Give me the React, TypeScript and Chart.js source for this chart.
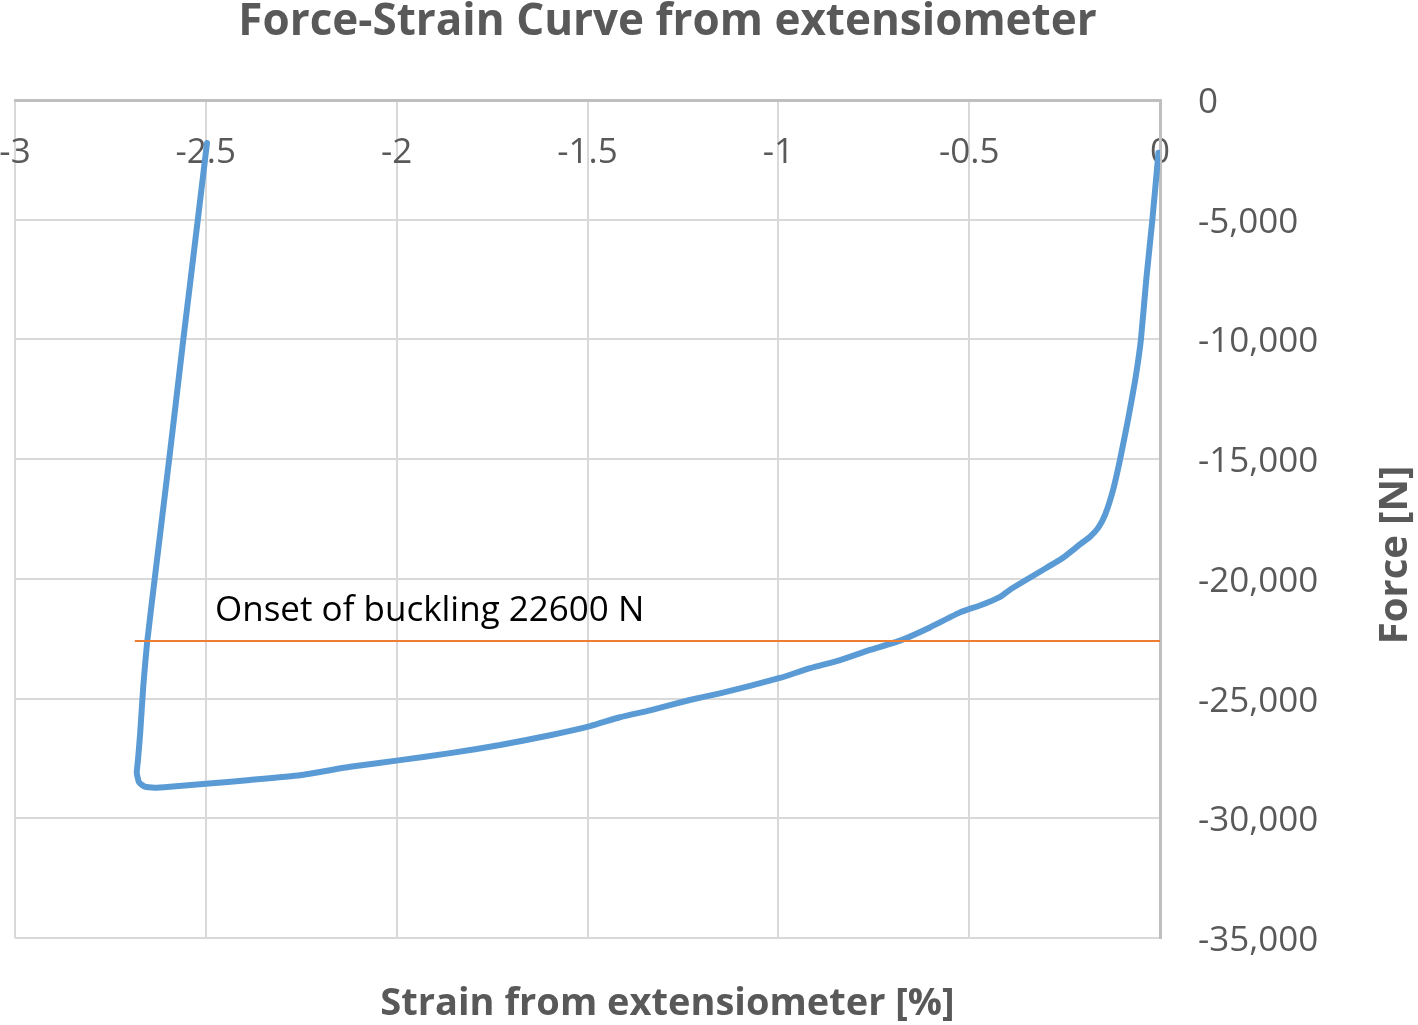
import React, { useEffect, useRef } from "react";
import { Chart, registerables } from "chart.js";

Chart.register(...registerables);

// ---- Data ----
const STRAIN = [
  -0.004, -0.020, -0.036, -0.050, -0.065, -0.084, -0.105, -0.123, -0.144, -0.162,
  -0.184, -0.209, -0.255, -0.307, -0.360, -0.393, -0.420, -0.470, -0.524, -0.603,
  -0.681, -0.760, -0.838, -0.917, -0.996, -1.074, -1.153, -1.232, -1.336, -1.415,
  -1.493, -1.598, -1.729, -1.860, -1.991, -2.122, -2.253, -2.384, -2.500, -2.594,
  -2.633, -2.660, -2.675, -2.681, -2.678, -2.672, -2.664, -2.654, -2.634, -2.596,
  -2.559, -2.521, -2.497,
];
const FORCE = [
  -2200, -5000, -7500, -10000, -11700, -13370, -15040, -16290, -17330, -17870,
  -18250, -18550, -19130, -19630, -20130, -20450, -20760, -21100, -21400, -22030,
  -22580, -22970, -23390, -23730, -24140, -24470, -24780, -25060, -25490, -25780,
  -26150, -26530, -26940, -27280, -27570, -27850, -28200, -28400, -28560, -28680,
  -28720, -28680, -28500, -28100, -27600, -26440, -24500, -22680, -20000, -15000,
  -10000, -5000, -1800,
];
const BUCKLING_STRAIN = [-2.686, 0];
const BUCKLING_FORCE = [-22600, -22600];
const X_TICKS = [-3, -2.5, -2, -1.5, -1, -0.5, 0];
const Y_TICKS = [0, -5000, -10000, -15000, -20000, -25000, -30000, -35000];

const TITLE = "Force-Strain Curve from extensiometer";
const X_TITLE = "Strain from extensiometer [%]";
const Y_TITLE = "Force [N]";
const NOTE = "Onset of buckling 22600 N";
const NOTE_AT = [-2.476, -21760];

const FONT = '"Open Sans", "DejaVu Sans", sans-serif';
const GREY = "#595959";

const extraText = {
  id: "extraText",
  afterDraw(chart: any) {
    const { ctx, chartArea } = chart;
    const xs = chart.scales.x;
    const ys = chart.scales.y;
    ctx.save();
    ctx.fillStyle = "#000000";
    ctx.font = `35px ${FONT}`;
    ctx.textAlign = "left";
    ctx.textBaseline = "alphabetic";
    ctx.fillText(NOTE, xs.getPixelForValue(NOTE_AT[0]), ys.getPixelForValue(NOTE_AT[1]));
    ctx.restore();

    ctx.save();
    ctx.translate(1396, (chartArea.top + chartArea.bottom) / 2 + 36);
    ctx.rotate(-Math.PI / 2);
    ctx.font = `bold 40px ${FONT}`;
    ctx.fillStyle = GREY;
    ctx.textAlign = "center";
    ctx.textBaseline = "middle";
    ctx.fillText(Y_TITLE, 0, 0);
    ctx.restore();
  },
};

export default function App() {
  const ref = useRef<HTMLCanvasElement | null>(null);

  useEffect(() => {
    if (!ref.current) return;
    Chart.defaults.font.family = FONT;
    const curve = STRAIN.map((s, i) => ({ x: s, y: FORCE[i] }));
    const buckling = BUCKLING_STRAIN.map((s, i) => ({ x: s, y: BUCKLING_FORCE[i] }));

    const chart = new Chart(ref.current, {
      type: "scatter",
      data: {
        datasets: [
          {
            label: "Force-Strain",
            data: curve,
            showLine: true,
            borderColor: "#5B9BD5",
            backgroundColor: "#5B9BD5",
            borderWidth: 6,
            pointRadius: 0,
            borderJoinStyle: "round",
            borderCapStyle: "round",
            tension: 0.15,
            order: 2,
          },
          {
            label: "Buckling",
            data: buckling,
            showLine: true,
            borderColor: "#ED7D31",
            backgroundColor: "#ED7D31",
            borderWidth: 2,
            pointRadius: 0,
            order: 1,
          },
        ],
      },
      options: {
        animation: false,
        responsive: true,
        maintainAspectRatio: false,
        locale: "en-US",
        layout: { padding: { left: 15, right: 98, top: 0, bottom: 0 } },
        plugins: {
          legend: { display: false },
          tooltip: { enabled: false },
          title: {
            display: true,
            text: TITLE,
            color: GREY,
            font: { size: 44, weight: "bold", family: FONT, lineHeight: 1 },
            padding: { top: 0, bottom: 56 },
          },
          subtitle: {
            display: true,
            text: X_TITLE,
            position: "bottom",
            color: GREY,
            font: { size: 38, weight: "bold", family: FONT, lineHeight: 1 },
            padding: { top: 47, bottom: 2 },
          },
        },
        scales: {
          x: {
            type: "linear",
            position: { y: 0 } as any,
            min: -3,
            max: 0,
            afterBuildTicks: (scale: any) => {
              scale.ticks = X_TICKS.map((v) => ({ value: v }));
            },
            afterFit: (scale: any) => {
              scale.paddingLeft = 0;
              scale.paddingRight = 0;
            },
            ticks: {
              color: GREY,
              font: { size: 35, family: FONT },
              padding: 32,
              maxRotation: 0,
              autoSkip: false,
              callback: (v: any) => String(v),
            },
            grid: { color: "#D9D9D9", lineWidth: 2, drawTicks: false },
            border: { color: "#BFBFBF", width: 3 },
          },
          y: {
            type: "linear",
            position: "right",
            min: -35000,
            max: 0,
            afterBuildTicks: (scale: any) => {
              scale.ticks = Y_TICKS.map((v) => ({ value: v }));
            },
            afterFit: (scale: any) => {
              scale.width = 160;
            },
            ticks: {
              color: GREY,
              font: { size: 35, family: FONT },
              padding: 38,
              labelOffset: 3,
              autoSkip: false,
            },
            grid: { color: "#D9D9D9", lineWidth: 2, drawTicks: false },
            border: { color: "#BFBFBF", width: 3 },
          },
        },
      },
      plugins: [extraText],
    });
    return () => chart.destroy();
  }, []);

  return (
    <div
      style={{
        position: "fixed",
        left: 0,
        top: 0,
        width: 1418,
        height: 1025,
        background: "#ffffff",
      }}
    >
      <canvas ref={ref} />
    </div>
  );
}
